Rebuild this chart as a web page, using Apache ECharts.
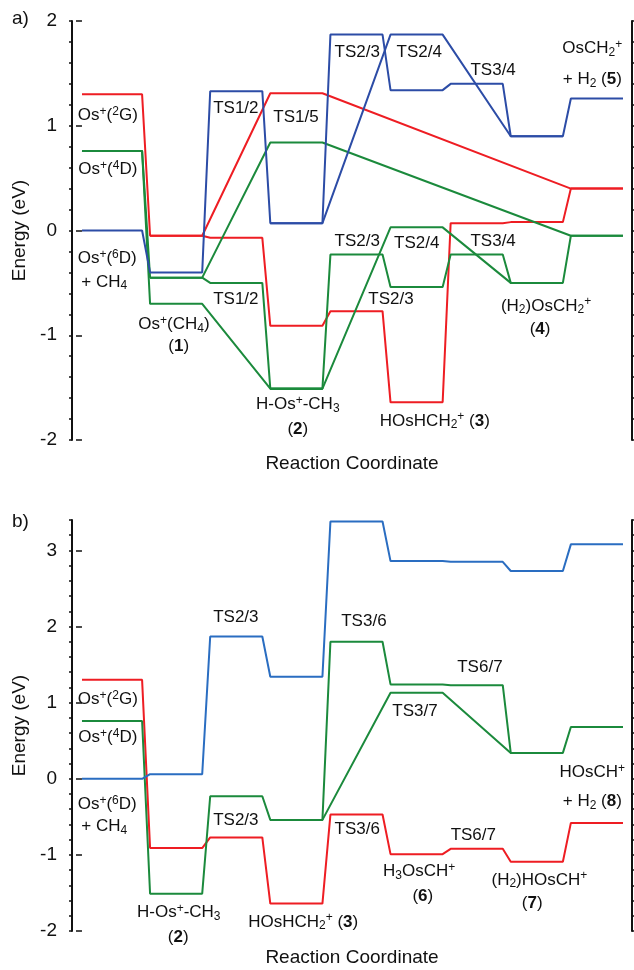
<!DOCTYPE html>
<html>
<head>
<meta charset="utf-8">
<script src="https://cdn.jsdelivr.net/npm/echarts@6/dist/echarts.min.js"></script>
<style>
  html, body { margin: 0; padding: 0; background: #fff; }
  #chart { width: 634px; height: 970px; }
</style>
</head>
<body>
<div id="chart"></div>
<script>
// levels: column index on the reaction coordinate + energy (eV)
// ----- panel a) -----
var redA1Cols = [0, 1, 2, 3, 4, 5, 6, 7, 8];
var redA1E = [1.30, -0.05, -0.07, -0.91, -0.77, -1.64, 0.07, 0.08, 0.40];
var redA2Cols = [1, 3, 8];
var redA2E = [-0.05, 1.31, 0.40];

var greenA1Cols = [0, 1, 3, 8];
var greenA1E = [0.76, -0.45, 0.84, -0.05];
var greenA2Cols = [1, 2, 3];
var greenA2E = [-0.45, -0.50, -1.51];
var greenA3Cols = [0, 1, 3];
var greenA3E = [0.76, -0.70, -1.51];
var greenA4Cols = [3, 4, 5, 6, 7, 8];
var greenA4E = [-1.51, -0.23, -0.54, -0.23, -0.50, -0.05];
var greenA5Cols = [3, 5, 7];
var greenA5E = [-1.51, 0.03, -0.50];

var blueA1Cols = [0, 1, 2, 3, 4, 5, 6, 7, 8];
var blueA1E = [0.00, -0.40, 1.33, 0.07, 1.87, 1.34, 1.40, 0.90, 1.26];
var blueA2Cols = [3, 5, 7];
var blueA2E = [0.07, 1.87, 0.90];

// ----- panel b) -----
var redBCols = [0, 1, 2, 3, 4, 5, 6, 7, 8];
var redBE = [1.30, -0.91, -0.77, -1.64, -0.47, -0.99, -0.92, -1.09, -0.58];
var greenB1Cols = [0, 1, 2, 3, 4, 5, 6, 7, 8];
var greenB1E = [0.76, -1.51, -0.23, -0.54, 1.80, 1.24, 1.23, 0.34, 0.68];
var greenB2Cols = [3, 5, 7];
var greenB2E = [-0.54, 1.13, 0.34];
var blueBCols = [0, 1, 2, 3, 4, 5, 6, 7, 8];
var blueBE = [0.00, 0.06, 1.87, 1.34, 3.38, 2.86, 2.85, 2.73, 3.08];

// y tick labels
var ticksA = [-2, -1, 0, 1, 2];
var ticksB = [-2, -1, 0, 1, 2, 3];

// annotations: [reaction coordinate, energy, text]
var labelsA = [
  [0.43, 1.10, 'Os{sp|+}({sp|2}G)'],
  [0.43, 0.58, 'Os{sp|+}({sp|4}D)'],
  [0.42, -0.27, 'Os{sp|+}({sp|6}D)'],
  [0.37, -0.49, '+ CH{sb|4}'],
  [1.53, -0.90, 'Os{sp|+}(CH{sb|4})'],
  [1.61, -1.11, '({b|1})'],
  [2.56, 1.17, 'TS1/2'],
  [3.56, 1.08, 'TS1/5'],
  [2.56, -0.66, 'TS1/2'],
  [3.59, -1.66, 'H-Os{sp|+}-CH{sb|3}'],
  [3.59, -1.90, '({b|2})'],
  [4.58, 1.70, 'TS2/3'],
  [5.61, 1.70, 'TS2/4'],
  [6.84, 1.53, 'TS3/4'],
  [8.49, 1.74, 'OsCH{sb|2}{sp|+}'],
  [8.49, 1.44, '+ H{sb|2} ({b|5})'],
  [4.58, -0.10, 'TS2/3'],
  [5.57, -0.12, 'TS2/4'],
  [6.84, -0.10, 'TS3/4'],
  [5.14, -0.66, 'TS2/3'],
  [7.72, -0.72, '(H{sb|2})OsCH{sb|2}{sp|+}'],
  [7.62, -0.94, '({b|4})'],
  [5.87, -1.82, 'HOsHCH{sb|2}{sp|+} ({b|3})']
];
var labelsB = [
  [0.43, 1.04, 'Os{sp|+}({sp|2}G)'],
  [0.43, 0.54, 'Os{sp|+}({sp|4}D)'],
  [0.42, -0.34, 'Os{sp|+}({sp|6}D)'],
  [0.37, -0.63, '+ CH{sb|4}'],
  [2.56, 2.12, 'TS2/3'],
  [2.56, -0.54, 'TS2/3'],
  [1.61, -1.76, 'H-Os{sp|+}-CH{sb|3}'],
  [1.60, -2.08, '({b|2})'],
  [3.68, -1.88, 'HOsHCH{sb|2}{sp|+} ({b|3})'],
  [4.69, 2.07, 'TS3/6'],
  [6.62, 1.47, 'TS6/7'],
  [5.54, 0.88, 'TS3/7'],
  [4.58, -0.67, 'TS3/6'],
  [6.51, -0.74, 'TS6/7'],
  [5.61, -1.22, 'H{sb|3}OsCH{sp|+}'],
  [5.67, -1.55, '({b|6})'],
  [7.61, -1.33, '(H{sb|2})HOsCH{sp|+}'],
  [7.49, -1.63, '({b|7})'],
  [8.49, 0.08, 'HOsCH{sp|+}'],
  [8.49, -0.30, '+ H{sb|2} ({b|8})']
];

(function () {
  var RED = '#ee1d23';
  var GREEN = '#1b8a3c';
  var BLUE_A = '#2c4ca6';
  var BLUE_B = '#2a6dc1';
  var INK = '#111111';
  var FONT = '"Liberation Sans", Arial, sans-serif';
  var GAP = 0.133; // slope part of each column

  var chart = echarts.init(document.getElementById('chart'), null, { renderer: 'canvas' });

  // each level becomes a flat segment, consecutive levels are joined by the line
  function levelPoints(cols, energies) {
    var pts = [];
    cols.forEach(function (c, k) {
      pts.push([c === 0 ? 0 : c + GAP, energies[k]]);
      pts.push([c + 1, energies[k]]);
    });
    return pts;
  }

  function path(cols, energies, color, panel) {
    return {
      type: 'line',
      xAxisIndex: panel,
      yAxisIndex: panel * 2,
      data: levelPoints(cols, energies),
      symbol: 'none',
      silent: true,
      clip: false,
      lineStyle: { color: color, width: 2 },
      itemStyle: { color: color }
    };
  }

  var rich = {
    sp: { fontSize: 12, lineHeight: 12, verticalAlign: 'top', color: INK, fontFamily: FONT },
    sb: { fontSize: 12, lineHeight: 12, verticalAlign: 'bottom', color: INK, fontFamily: FONT },
    b: { fontSize: 17, fontWeight: 'bold', color: INK, fontFamily: FONT }
  };

  function labelSeries(list, panel) {
    return {
      type: 'scatter',
      xAxisIndex: panel,
      yAxisIndex: panel * 2,
      symbolSize: 0,
      silent: true,
      clip: false,
      itemStyle: { opacity: 1 },
      data: list.map(function (l) { return [l[0], l[1]]; }),
      label: {
        show: true,
        position: 'inside',
        align: 'center',
        verticalAlign: 'middle',
        color: INK,
        opacity: 1,
        fontSize: 17,
        fontFamily: FONT,
        lineHeight: 20,
        rich: rich,
        formatter: function (p) { return list[p.dataIndex][2]; }
      }
    };
  }

  function xAxis(grid, gap, visible) {
    return {
      type: 'value',
      gridIndex: grid,
      show: visible,
      min: -0.166,
      max: 9.15,
      axisLine: { show: false },
      axisTick: { show: false },
      axisLabel: { show: false },
      splitLine: { show: false },
      name: visible ? 'Reaction Coordinate' : '',
      nameLocation: 'middle',
      nameGap: gap,
      nameTextStyle: { color: INK, fontSize: 19, fontFamily: FONT, verticalAlign: 'top' }
    };
  }

  // main left axis (line, labels, small ticks) and the right frame axis
  function yAxes(grid, min, max, ticks) {
    var line = { show: true, onZero: false, lineStyle: { color: INK, width: 2 } };
    return [
      {
        type: 'value', gridIndex: grid, position: 'left', min: min, max: max, interval: 0.2,
        axisLine: line,
        axisTick: { show: true, length: 3, lineStyle: { color: INK, width: 1.5 } },
        axisLabel: { customValues: ticks, color: INK, fontSize: 19, fontFamily: FONT, margin: 15 },
        splitLine: { show: false },
        name: 'Energy (eV)',
        nameLocation: 'middle',
        nameGap: 42,
        nameTextStyle: { color: INK, fontSize: 19, fontFamily: FONT }
      },
      {
        type: 'value', gridIndex: grid, position: 'right', min: min, max: max, interval: 0.2,
        axisLine: line,
        axisTick: { show: true, length: 3, lineStyle: { color: INK, width: 1.5 } },
        axisLabel: { show: false },
        splitLine: { show: false }
      }
    ];
  }

  // longer ticks at whole eV, on an overlay grid of the same size
  function majorTicks(grid, min, max, ticks) {
    return {
      type: 'value', gridIndex: grid, position: 'left', min: min, max: max, interval: 1,
      axisLine: { show: false },
      axisTick: { show: true, length: 6, customValues: ticks, lineStyle: { color: INK, width: 1.5 } },
      axisLabel: { show: false },
      splitLine: { show: false }
    };
  }

  var gridA = { left: 72, right: 2, top: 21, height: 419 };
  var gridB = { left: 72, right: 2, top: 520, height: 411 };

  chart.setOption({
    animation: false,
    backgroundColor: '#fff',
    textStyle: { fontFamily: FONT },
    grid: [gridA, gridB, gridA, gridB],
    graphic: [
      { type: 'text', left: 12, top: 9, style: { text: 'a)', fontSize: 19, fontFamily: FONT, fill: INK } },
      { type: 'text', left: 12, top: 512, style: { text: 'b)', fontSize: 19, fontFamily: FONT, fill: INK } }
    ],
    xAxis: [xAxis(0, 14, true), xAxis(1, 17, true), xAxis(2, 0, false), xAxis(3, 0, false)],
    yAxis: yAxes(0, -2, 2, ticksA)
      .concat(yAxes(1, -2, 3.4, ticksB))
      .concat([majorTicks(2, -2, 2, ticksA), majorTicks(3, -2, 3.4, ticksB)]),
    series: [
      path(redA1Cols, redA1E, RED, 0),
      path(redA2Cols, redA2E, RED, 0),
      path(greenA1Cols, greenA1E, GREEN, 0),
      path(greenA2Cols, greenA2E, GREEN, 0),
      path(greenA3Cols, greenA3E, GREEN, 0),
      path(greenA4Cols, greenA4E, GREEN, 0),
      path(greenA5Cols, greenA5E, GREEN, 0),
      path(blueA1Cols, blueA1E, BLUE_A, 0),
      path(blueA2Cols, blueA2E, BLUE_A, 0),
      path(redBCols, redBE, RED, 1),
      path(greenB1Cols, greenB1E, GREEN, 1),
      path(greenB2Cols, greenB2E, GREEN, 1),
      path(blueBCols, blueBE, BLUE_B, 1),
      labelSeries(labelsA, 0),
      labelSeries(labelsB, 1)
    ]
  });
})();
</script>
</body>
</html>
